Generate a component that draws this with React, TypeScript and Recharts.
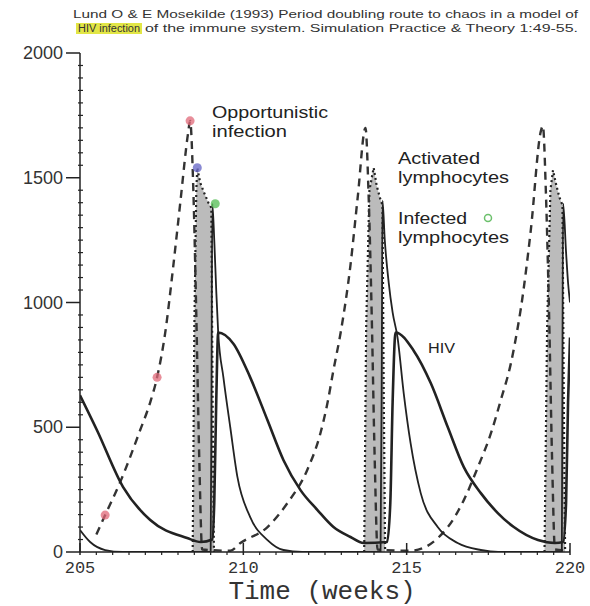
import React from 'react';
import { ComposedChart, Line, Area, Scatter, XAxis, YAxis } from 'recharts';

// Lund & Mosekilde (1993) – period doubling in an HIV model, weeks 205–220
// each series is [week, value]; null breaks a series between bursts

const opportunisticInfection: [number, number][] = [
  [205.5, 70], [205.77, 148], [206.23, 280], [206.84, 488], [207.15, 600], [207.36, 700],
  [207.61, 880], [207.85, 1140], [208.07, 1400], [208.31, 1680], [208.37, 1728],
  [208.47, 1450], [208.56, 950], [208.65, 380], [208.74, 10], [209.6, 5],
  [209.91, 36], [210.74, 100], [211.35, 196], [211.96, 330], [212.36, 476], [212.58, 600],
  [212.76, 730], [212.98, 880], [213.28, 1150], [213.5, 1420], [213.74, 1700],
  [213.83, 1450], [213.93, 950], [214.02, 380], [214.11, 10], [215.12, 5],
  [216.26, 100], [216.75, 208], [217.18, 340], [217.58, 476], [217.88, 608], [218.19, 756],
  [218.4, 900], [218.5, 980], [218.8, 1290], [219.11, 1688], [219.17, 1708],
  [219.26, 1450], [219.36, 950], [219.45, 380], [219.54, 10], [220.0, 5],
];

const activatedLymphocytes: [number, number | null][] = [
  [208.45, 0], [208.5, 900], [208.56, 1450], [208.59, 1540], [208.68, 1480],
  [208.8, 1440], [208.93, 1400], [209.02, 1380], [209.06, 600], [209.1, 0], [211.0, null],
  [213.7, 0], [213.76, 900], [213.86, 1450], [213.99, 1540], [214.08, 1470],
  [214.18, 1420], [214.26, 1390], [214.3, 600], [214.34, 0], [216.0, null],
  [219.22, 0], [219.3, 900], [219.4, 1450], [219.48, 1530], [219.58, 1470],
  [219.68, 1420], [219.77, 1390], [219.81, 600], [219.85, 0],
];

const infectedLymphocytes: [number, number][] = [
  [205.0, 88], [205.31, 40], [205.77, 8], [206.3, 0], [209.0, 0], [209.03, 800],
  [209.05, 1396], [209.11, 1250], [209.17, 1050], [209.23, 880], [209.39, 700],
  [209.6, 500], [209.82, 300], [210.21, 140], [210.74, 48], [211.23, 8], [211.8, 0],
  [214.2, 0], [214.24, 800], [214.26, 1408], [214.33, 1250], [214.45, 1080],
  [214.57, 960], [214.72, 860], [214.91, 636], [215.12, 436], [215.43, 236],
  [215.95, 100], [216.56, 36], [217.27, 8], [217.8, 0], [219.75, 0], [219.77, 800],
  [219.79, 1396], [219.88, 1200], [219.94, 1080], [220.0, 1000],
];

const hiv: [number, number][] = [
  [205.0, 628], [205.52, 488], [206.32, 260], [207.15, 128], [208.28, 56], [208.7, 40],
  [209.05, 50], [209.11, 200], [209.17, 600], [209.23, 880], [209.69, 836], [210.21, 700],
  [210.74, 528], [211.23, 368], [211.75, 248], [212.27, 168], [212.76, 100], [213.28, 60],
  [213.68, 36], [214.4, 40], [214.5, 200], [214.57, 600], [214.66, 880], [215.21, 808],
  [215.74, 676], [216.26, 500], [216.75, 340], [217.27, 236], [217.79, 156], [218.28, 100],
  [219.02, 48], [219.54, 36], [219.79, 40], [219.88, 200], [219.94, 600], [220.0, 860],
];

// coloured marks someone added on the scan
const redMarks: [number, number][] = [[205.77, 148], [207.36, 700], [208.37, 1728]];
const blueMarks: [number, number][] = [[208.59, 1540]];
const greenMarks: [number, number][] = [[209.14, 1396]];

const xTicks = Array.from({ length: 31 }, (_, i) => 205 + i * 0.5);
const yTicks = Array.from({ length: 41 }, (_, i) => i * 50);

const titleLine1 = 'Lund O & E Mosekilde (1993) Period doubling route to chaos in a model of';
const titleHighlight = 'HIV infection';
const titleLine2 = 'of the immune system. Simulation Practice & Theory 1:49-55.';

const rows = (pts: [number, number | null][]) => pts.map(([t, v]) => ({ t, v }));

const INK = '#222';
const SANS = 'Liberation Sans, Arial, sans-serif';
const MONO = 'Liberation Mono, Courier New, monospace';

const YTick = ({ x, y, payload }: any) => {
  const v = payload.value;
  if (v % 500 === 0) {
    return (
      <g>
        <line x1={x - 14} x2={x} y1={y} y2={y} stroke={INK} strokeWidth={1.5} />
        <text x={x - 17} y={y} dy={6} textAnchor="end" fontSize={18} fontFamily={SANS} fill="#333">
          {v}
        </text>
      </g>
    );
  }
  return <line x1={x - 2} x2={x + 3} y1={y} y2={y} stroke={INK} strokeWidth={1.2} />;
};

const XTick = ({ x, y, payload }: any) => {
  const v = payload.value;
  if (v % 5 === 0) {
    return (
      <g>
        <line x1={x} x2={x} y1={y - 9} y2={y + 3} stroke={INK} strokeWidth={1.5} />
        <text x={x} y={y + 21} textAnchor="middle" fontSize={17} fontFamily={MONO} fill="#333">
          {v}
        </text>
      </g>
    );
  }
  return <line x1={x} x2={x} y1={y} y2={y + 3} stroke={INK} strokeWidth={1.2} />;
};

const HivChart: React.FC = () => {
  return (
    <div style={{ position: 'absolute', left: 0, top: 0, width: 590, height: 606, background: '#fff' }}>
      <ComposedChart width={590} height={606} margin={{ top: 53, right: 20, bottom: 24, left: 20 }}>
        <XAxis
          dataKey="t"
          type="number"
          domain={[205, 220]}
          ticks={xTicks}
          interval={0}
          allowDataOverflow
          height={30}
          tickSize={0}
          tickMargin={0}
          tickLine={false}
          tick={<XTick />}
          axisLine={{ stroke: INK, strokeWidth: 1.5 }}
        />
        <YAxis
          dataKey="v"
          type="number"
          domain={[0, 2000]}
          ticks={yTicks}
          interval={0}
          allowDataOverflow
          width={60}
          tickSize={0}
          tickMargin={0}
          tickLine={false}
          tick={<YTick />}
          axisLine={{ stroke: INK, strokeWidth: 1.5 }}
        />
        <Area
          data={rows(activatedLymphocytes)}
          dataKey="v"
          type="linear"
          stroke={INK}
          strokeWidth={2.2}
          strokeDasharray="2 3"
          fill="#777"
          fillOpacity={0.5}
          connectNulls={false}
          isAnimationActive={false}
        />
        <Line
          data={rows(opportunisticInfection)}
          dataKey="v"
          type="monotone"
          stroke="#333"
          strokeWidth={2.4}
          strokeDasharray="8 6"
          dot={false}
          isAnimationActive={false}
        />
        <Line
          data={rows(infectedLymphocytes)}
          dataKey="v"
          type="monotone"
          stroke={INK}
          strokeWidth={1.8}
          dot={false}
          isAnimationActive={false}
        />
        <Line
          data={rows(hiv)}
          dataKey="v"
          type="monotone"
          stroke={INK}
          strokeWidth={2.6}
          dot={false}
          isAnimationActive={false}
        />
        <Scatter data={rows(redMarks)} dataKey="v" fill="#e06878" fillOpacity={0.75} isAnimationActive={false} />
        <Scatter data={rows(blueMarks)} dataKey="v" fill="#6b6bc8" fillOpacity={0.8} isAnimationActive={false} />
        <Scatter data={rows(greenMarks)} dataKey="v" fill="#5cc05c" fillOpacity={0.8} isAnimationActive={false} />
      </ComposedChart>

      <svg width={590} height={606} style={{ position: 'absolute', left: 0, top: 0, pointerEvents: 'none' }}>
        <text x={73} y={18} fontSize={10} fontFamily={SANS} fill="#333" textLength={505} lengthAdjust="spacingAndGlyphs">
          {titleLine1}
        </text>
        <rect x={76} y={23} width={66} height={11} fill="#e2e646" />
        <text x={78} y={32} fontSize={10} fontFamily={SANS} fill="#333" textLength={62} lengthAdjust="spacingAndGlyphs">
          {titleHighlight}
        </text>
        <text x={145} y={32} fontSize={10} fontFamily={SANS} fill="#333" textLength={433} lengthAdjust="spacingAndGlyphs">
          {titleLine2}
        </text>

        <g fontFamily={SANS} fontSize={16} fill={INK}>
          <text x={212} y={118} textLength={116} lengthAdjust="spacingAndGlyphs">Opportunistic</text>
          <text x={212} y={137} textLength={75} lengthAdjust="spacingAndGlyphs">infection</text>
          <text x={398} y={164} textLength={82} lengthAdjust="spacingAndGlyphs">Activated</text>
          <text x={398} y={183} textLength={111} lengthAdjust="spacingAndGlyphs">lymphocytes</text>
          <text x={398} y={224} textLength={69} lengthAdjust="spacingAndGlyphs">Infected</text>
          <text x={398} y={243} textLength={111} lengthAdjust="spacingAndGlyphs">lymphocytes</text>
          <text x={428} y={353} fontSize={15} textLength={27} lengthAdjust="spacingAndGlyphs">HIV</text>
        </g>
        <circle cx={488} cy={218} r={3.5} fill="none" stroke="#6cc06c" strokeWidth={1.5} />

        <text x={322} y={599} textAnchor="middle" fontSize={26} fontFamily={MONO} fill="#333">
          Time (weeks)
        </text>
      </svg>
    </div>
  );
};

export default function App() {
  return <HivChart />;
}
